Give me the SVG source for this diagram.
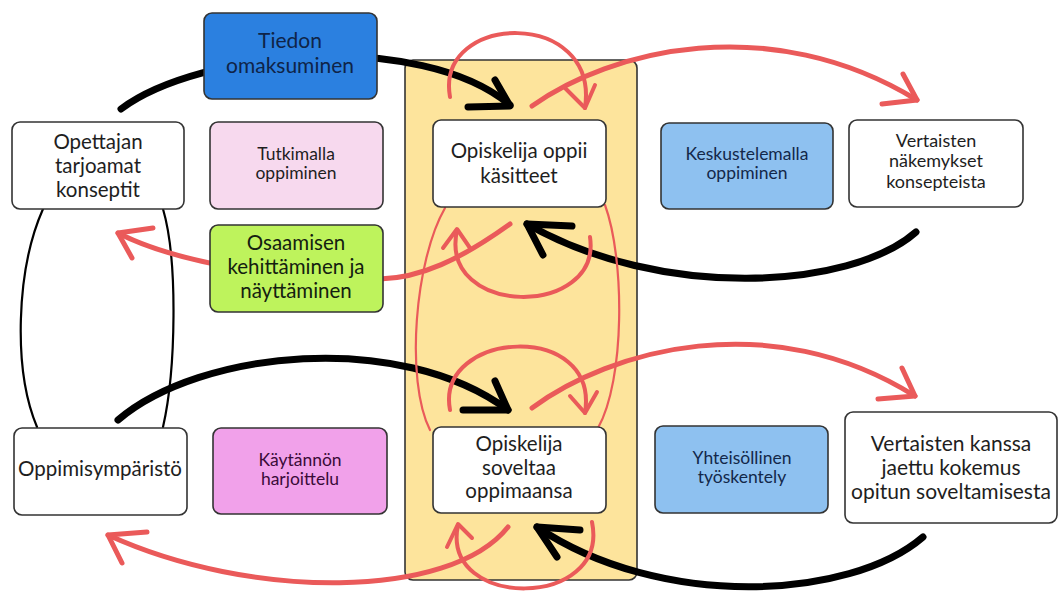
<svg xmlns="http://www.w3.org/2000/svg" width="1059" height="595" viewBox="0 0 1059 595">
<style>
.box{stroke:#333;stroke-width:1.6}
.t{font-family:Lato,"Open Sans","Liberation Sans",sans-serif;text-anchor:middle;fill:#1e1e1e}
.blk{fill:none;stroke:#000;stroke-width:7;stroke-linecap:round;stroke-linejoin:round}
.blkthin{fill:none;stroke:#000;stroke-width:2.2;stroke-linecap:round}
.red{fill:none;stroke:#ea5a5a;stroke-width:5;stroke-linecap:round;stroke-linejoin:round}
.redl{fill:none;stroke:#ea5a5a;stroke-width:4;stroke-linecap:round;stroke-linejoin:round}
.redthin{fill:none;stroke:#ea5a5a;stroke-width:2.2;stroke-linecap:round}
</style>
<rect width="1059" height="595" fill="#fff"/>
<g id="panel">
<rect x="405" y="60" width="232" height="520" rx="8" fill="#fde49c" stroke="#333" stroke-width="1.6"/>
</g>
<g id="connectors">
<path class="blkthin" d="M43,209 C 16,270 13,370 37,427"/>
<path class="blkthin" d="M163,209 C 178,260 176,370 163,427"/>
<path class="blk" d="M121,109 C 200,50 420,30 510,105"/>
<polyline class="blk" points="495,80 510,106 468,107"/>
<path class="blk" d="M916,232 C 850,290 660,300 527,224"/>
<polyline class="blk" points="572,226 527,224 543,255"/>
<path class="blk" d="M118,420 C 200,350 400,330 508,410"/>
<polyline class="blk" points="495,381 508,410 463,410"/>
<path class="blk" d="M923,537 C 850,600 660,610 537,527"/>
<polyline class="blk" points="580,530 537,527 557,557"/>
<path class="redthin" d="M445,208 C 415,260 405,380 430,430"/>
<path class="redthin" d="M605,205 C 625,260 625,380 598,428"/>
<path class="redl" d="M450,97 C 435,12 600,8 585,108"/>
<polyline class="redl" points="565,88 585,108 595,85"/>
<path class="redl" d="M590,237 C 602,318 438,318 457,230"/>
<polyline class="redl" points="443,248 457,229 470,248"/>
<path class="redl" d="M450,410 C 435,330 600,320 585,413"/>
<polyline class="redl" points="570,396 585,413 597,392"/>
<path class="redl" d="M592,522 C 610,610 440,610 458,525"/>
<polyline class="redl" points="447,547 458,524 472,538"/>
<path class="red" d="M510,224 C 460,260 420,278 380,279 C 300,282 180,265 118,233"/>
<polyline class="red" points="153,228 118,233 132,258"/>
<path class="red" d="M532,106 C 610,50 770,10 917,100"/>
<polyline class="red" points="903,74 917,100 882,104"/>
<path class="red" d="M532,408 C 610,350 770,305 915,396"/>
<polyline class="red" points="902,368 915,396 878,399"/>
<path class="red" d="M508,527 C 450,600 250,600 108,535"/>
<polyline class="red" points="147,532 108,535 122,563"/>
</g>
<g id="tiedon">
<rect class="box" x="204" y="13" width="173" height="86" rx="8" fill="#2b80e0"/>
<text class="t" x="290" y="48" font-size="21" style="fill:#0f2448">Tiedon</text>
<text class="t" x="290" y="73" font-size="21" style="fill:#0f2448">omaksuminen</text>
</g>
<g id="opettajan">
<rect class="box" x="12" y="122" width="172" height="87" rx="8" fill="#fff"/>
<text class="t" x="98" y="149" font-size="20.5">Opettajan</text>
<text class="t" x="98" y="173" font-size="20.5">tarjoamat</text>
<text class="t" x="98" y="197" font-size="20.5">konseptit</text>
</g>
<g id="tutkimalla">
<rect class="box" x="210" y="122" width="173" height="87" rx="8" fill="#f7d9ee"/>
<text class="t" x="296" y="160" font-size="17.5">Tutkimalla</text>
<text class="t" x="296" y="179" font-size="17.5">oppiminen</text>
</g>
<g id="osaamisen">
<rect class="box" x="210" y="225" width="173" height="87" rx="8" fill="#bef35c"/>
<text class="t" x="296" y="250" font-size="20.5" style="fill:#142010">Osaamisen</text>
<text class="t" x="296" y="274" font-size="20.5" style="fill:#142010">kehittäminen ja</text>
<text class="t" x="296" y="298" font-size="20.5" style="fill:#142010">näyttäminen</text>
</g>
<g id="oppii">
<rect class="box" x="433" y="120" width="173" height="87" rx="8" fill="#fff"/>
<text class="t" x="519" y="158" font-size="20.5">Opiskelija oppii</text>
<text class="t" x="519" y="183" font-size="20.5">käsitteet</text>
</g>
<g id="keskustelemalla">
<rect class="box" x="661" y="123" width="172" height="86" rx="8" fill="#8ec1f0"/>
<text class="t" x="747" y="160" font-size="17.5" style="fill:#13284a">Keskustelemalla</text>
<text class="t" x="747" y="179" font-size="17.5" style="fill:#13284a">oppiminen</text>
</g>
<g id="nakemykset">
<rect class="box" x="849" y="120" width="174" height="87" rx="8" fill="#fff"/>
<text class="t" x="936" y="147" font-size="18">Vertaisten</text>
<text class="t" x="936" y="167" font-size="18">näkemykset</text>
<text class="t" x="936" y="188" font-size="18">konsepteista</text>
</g>
<g id="oppimisymparisto">
<rect class="box" x="14" y="428" width="173" height="87" rx="8" fill="#fff"/>
<text class="t" x="100" y="476" font-size="20.5">Oppimisympäristö</text>
</g>
<g id="kaytannon">
<rect class="box" x="213" y="428" width="174" height="86" rx="8" fill="#f1a1ea"/>
<text class="t" x="300" y="466" font-size="17.5" style="fill:#3a0b38">Käytännön</text>
<text class="t" x="300" y="485" font-size="17.5" style="fill:#3a0b38">harjoittelu</text>
</g>
<g id="soveltaa">
<rect class="box" x="433" y="427" width="173" height="86" rx="8" fill="#fff"/>
<text class="t" x="519" y="451" font-size="20.5">Opiskelija</text>
<text class="t" x="519" y="475" font-size="20.5">soveltaa</text>
<text class="t" x="519" y="498" font-size="20.5">oppimaansa</text>
</g>
<g id="yhteisollinen">
<rect class="box" x="655" y="426" width="173" height="87" rx="8" fill="#8ec1f0"/>
<text class="t" x="742" y="464" font-size="17.5" style="fill:#13284a">Yhteisöllinen</text>
<text class="t" x="742" y="483" font-size="17.5" style="fill:#13284a">työskentely</text>
</g>
<g id="kokemus">
<rect class="box" x="845" y="412" width="212" height="111" rx="8" fill="#fff"/>
<text class="t" x="951" y="451" font-size="21">Vertaisten kanssa</text>
<text class="t" x="951" y="475" font-size="21">jaettu kokemus</text>
<text class="t" x="951" y="499" font-size="21">opitun soveltamisesta</text>
</g>
</svg>
